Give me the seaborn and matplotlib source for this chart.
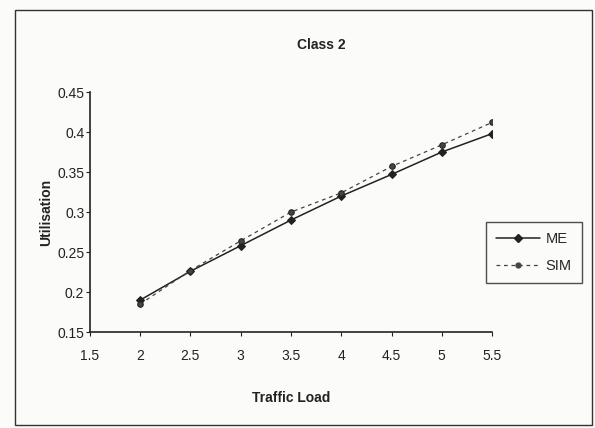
import pandas as pd
import matplotlib
matplotlib.use("Agg")
import matplotlib.pyplot as plt
import matplotlib.patches as patches
from matplotlib.lines import Line2D
import seaborn as sns

traffic_load = [2, 2.5, 3, 3.5, 4, 4.5, 5, 5.5]
me_util = [0.190, 0.226, 0.258, 0.290, 0.320, 0.347, 0.375, 0.398]
sim_util = [0.185, 0.227, 0.264, 0.300, 0.324, 0.357, 0.384, 0.412]

df = pd.DataFrame({
    "Traffic Load": traffic_load * 2,
    "Utilisation": me_util + sim_util,
    "serie": ["ME"] * len(me_util) + ["SIM"] * len(sim_util),
})

sns.set_style("ticks")
plt.rcParams['font.family'] = ['Liberation Sans', 'DejaVu Sans']

fig = plt.figure(figsize=(5.95, 4.28), dpi=100)
fig.patch.set_facecolor("#fbfbf9")
ax = fig.add_axes([0.151, 0.224, 0.676, 0.561])
ax.set_facecolor("#fbfbf9")

sns.lineplot(data=df, x="Traffic Load", y="Utilisation", style="serie",
             color="#222222", markers={"ME": "D", "SIM": "o"},
             dashes={"ME": "", "SIM": (3, 3)}, markersize=4,
             linewidth=1.1, markeredgecolor="#222222", ax=ax, legend=False)
ax.lines[1].set_linewidth(0.9)
ax.lines[1].set_color("#444444")

ax.set_xlim(1.5, 5.5)
ax.set_ylim(0.15, 0.45)
ax.set_xticks([1.5, 2, 2.5, 3, 3.5, 4, 4.5, 5, 5.5])
ax.set_xticklabels(["1.5", "2", "2.5", "3", "3.5", "4", "4.5", "5", "5.5"])
ax.set_yticks([0.15, 0.2, 0.25, 0.3, 0.35, 0.4, 0.45])
ax.set_yticklabels(["0.15", "0.2", "0.25", "0.3", "0.35", "0.4", "0.45"])
ax.tick_params(labelsize=10, length=3, color="#222222", labelcolor="#222222")
ax.tick_params(axis="x", pad=9)
ax.tick_params(axis="y", pad=1)
sns.despine(ax=ax)
for s in ["left", "bottom"]:
    ax.spines[s].set_color("#222222")
    ax.spines[s].set_linewidth(1.2)

ax.set_xlabel("Traffic Load", fontsize=10, fontweight="bold", color="#222222", labelpad=20)
ax.set_ylabel("Utilisation", fontsize=10, fontweight="bold", color="#222222", labelpad=3)
fig.text(0.54, 0.895, "Class 2", ha="center", va="center", fontsize=10,
         fontweight="bold", color="#222222")

handles = [Line2D([], [], color="#222222", marker="D", markersize=4, linewidth=1.1),
           Line2D([], [], color="#444444", marker="o", markersize=3.5, linewidth=0.9, dashes=(3, 3))]
leg = fig.legend(handles, ["ME", "SIM"], loc="center left",
                 bbox_to_anchor=(0.804, 0.41), fontsize=10.5, frameon=True,
                 fancybox=False, handlelength=3.0, handletextpad=0.4,
                 borderpad=0.7, labelspacing=0.9)
leg.get_frame().set_edgecolor("#222222")
leg.get_frame().set_linewidth(1.0)
leg.get_frame().set_facecolor("#fbfbf9")

fig.patches.append(patches.Rectangle((0.025, 0.008), 0.97, 0.968, transform=fig.transFigure,
                                     fill=False, edgecolor="#333333", linewidth=1.0))

fig.savefig("out.png", dpi=100, facecolor=fig.get_facecolor())
